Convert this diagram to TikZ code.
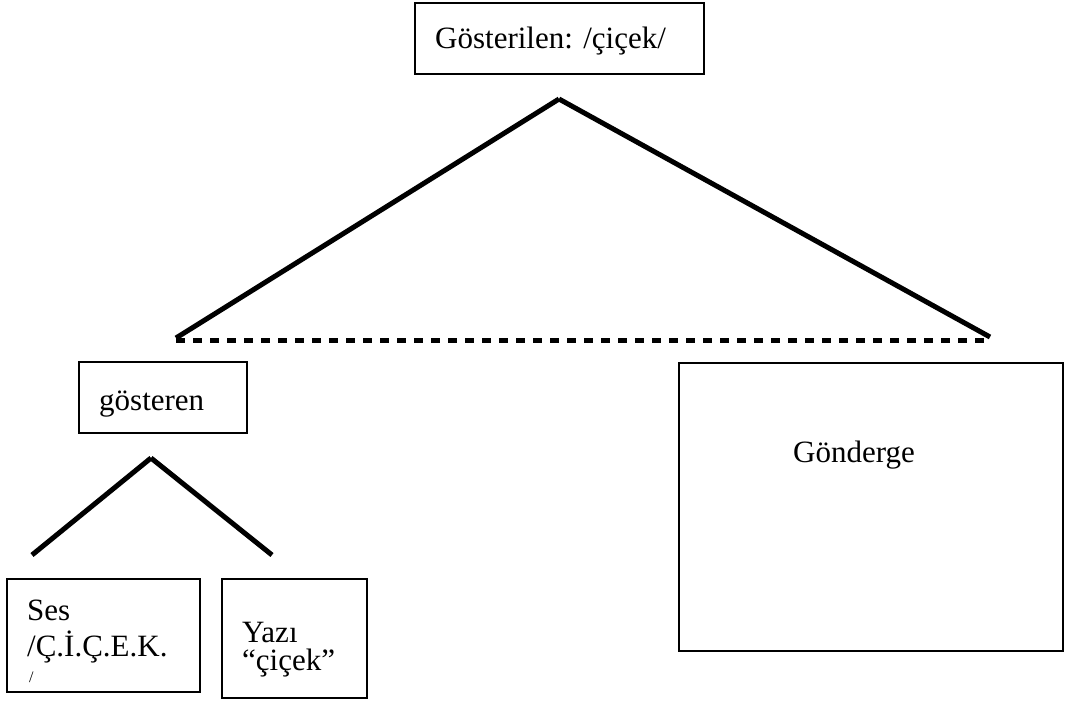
\documentclass[tikz,border=0pt]{standalone}
\usepackage{fontspec}
\setmainfont{Liberation Serif}
\usetikzlibrary{positioning}

\tikzset{
box/.style={draw, line width=1.8pt, inner sep=0pt},
txt/.style={anchor=base west, inner sep=0pt, font=\fontsize{31}{35}\selectfont},
leg/.style={line width=5pt},
}

\begin{document}
\begin{tikzpicture}[x=1pt, y=-1pt]
\useasboundingbox (0,0) rectangle (1069,702);

\node[box, minimum width=289pt, minimum height=71pt] (signified) at (559.5,38.5) {};
\node[box, minimum width=168pt, minimum height=71pt] (signifier) at (163,397.5) {};
\node[box, minimum width=193pt, minimum height=113pt] (sound) at (103.5,635.5) {};
\node[box, minimum width=145pt, minimum height=119pt] (writing) at (294.5,638.5) {};
\node[box, minimum width=384pt, minimum height=288pt] (referent) at (871,507) {};

\node[txt] (signifiedtxt) at (435,48) {Gösterilen: /çiçek/};
\node[txt] (signifiertxt) at (99,410) {gösteren};
\node[txt] (referenttxt) at (793,462) {Gönderge};
\node[txt] (soundtxt) at (27,620) {Ses};
\node[txt] (soundtxtb) at (27,656) {/Ç.İ.Ç.E.K.};
\node[txt, font=\fontsize{16}{18}\selectfont] (soundtxtc) at (29,682) {/};
\node[txt] (writingtxt) at (242,642) {Yazı};
\node[txt] (writingtxtb) at (242,670) {“çiçek”};

% big triangle
\coordinate (top) at (559,99);
\coordinate (topl) at (176,338);
\coordinate (topr) at (990,337);
\draw[leg] (top) -- (topl);
\draw[leg] (top) -- (topr);
\draw[line width=5pt, dash pattern=on 9pt off 8pt] (topl) ++(0,2) -- ([yshift=-3pt]topr);

% small triangle
\coordinate (sub) at (151,458);
\coordinate (subl) at (32,555);
\coordinate (subr) at (272,555);
\draw[leg] (sub) -- (subl);
\draw[leg] (sub) -- (subr);
\end{tikzpicture}
\end{document}
